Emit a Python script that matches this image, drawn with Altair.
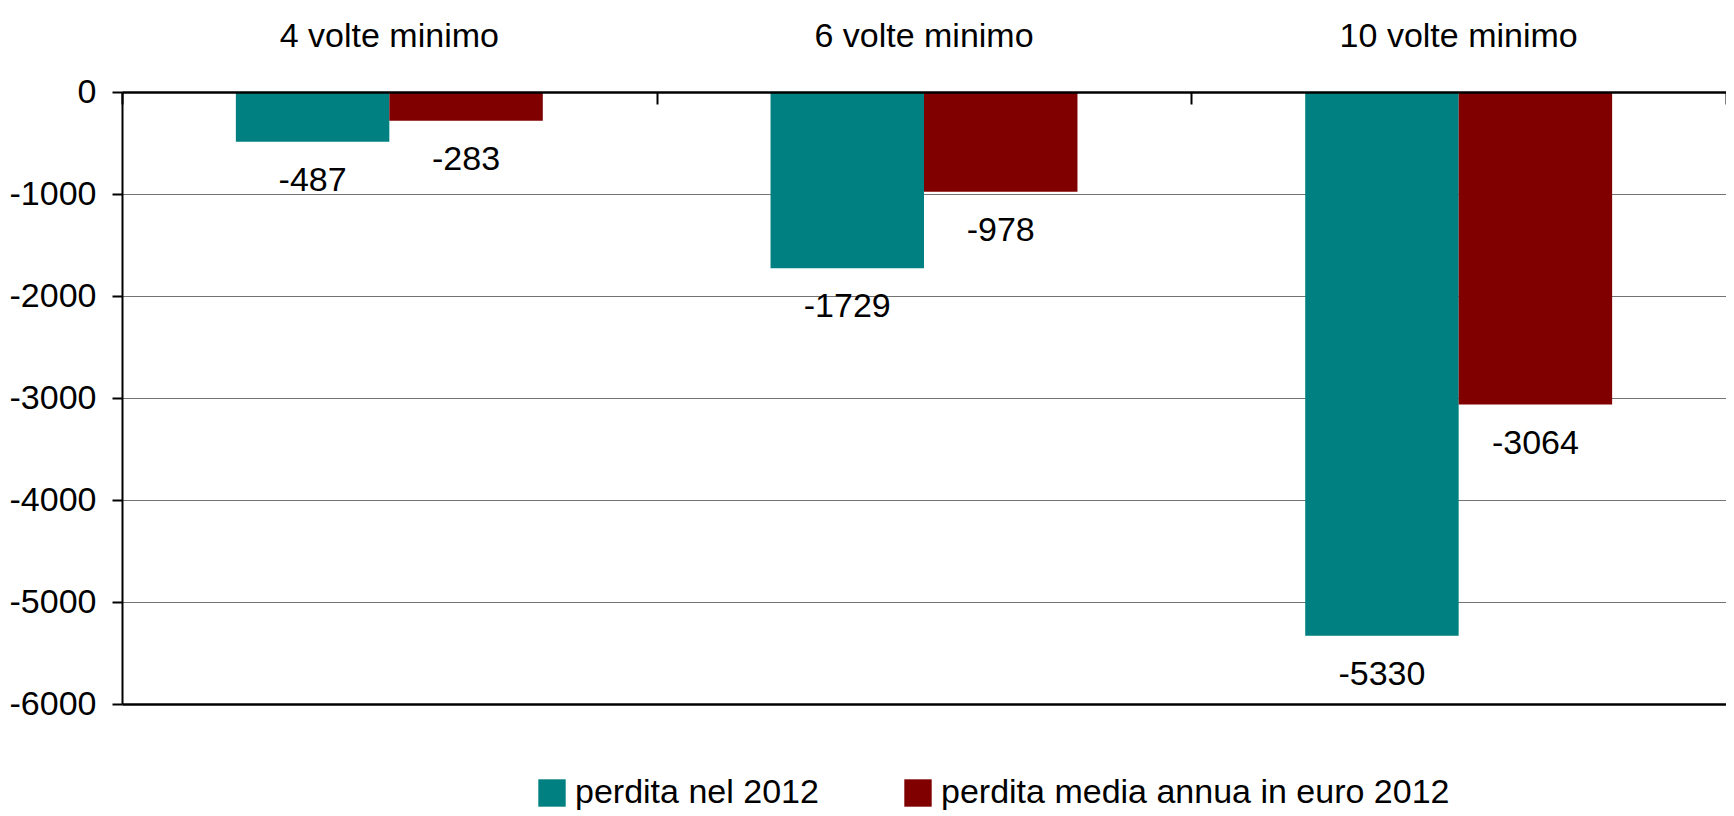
import altair as alt
import pandas as pd

categories = ["4 volte minimo", "6 volte minimo", "10 volte minimo"]
series = ["perdita nel 2012", "perdita media annua in euro 2012"]
perdita_2012 = [-487, -1729, -5330]
perdita_media = [-283, -978, -3064]
colors = ["#008080", "#800000"]
y_ticks = [0, -1000, -2000, -3000, -4000, -5000, -6000]

rows = []
for i, c in enumerate(categories):
    rows.append({"cat": c, "serie": series[0], "valore": perdita_2012[i], "etichetta": str(perdita_2012[i])})
    rows.append({"cat": c, "serie": series[1], "valore": perdita_media[i], "etichetta": str(perdita_media[i])})
df = pd.DataFrame(rows)

FONT = "Liberation Sans, Arial, sans-serif"
FS = 34
W, H = 1604, 612

x_scale = alt.Scale(domain=categories, paddingInner=0, paddingOuter=0)
xo_scale = alt.Scale(domain=series, paddingInner=0, paddingOuter=0.742)
y_scale = alt.Scale(domain=[-6000, 0], nice=False, zero=False)

y_enc = alt.Y(
    "valore:Q",
    scale=y_scale,
    axis=alt.Axis(
        title=None, values=y_ticks, labelExpr="toString(datum.value)",
        labelFontSize=FS, labelPadding=16, labelLimit=1000,
        tickSize=10, tickWidth=2, tickColor="black",
        domainColor="black", domainWidth=2,
        grid=True,
        gridColor={"condition": {"test": "datum.value === -6000", "value": "black"}, "value": "#737373"},
        gridWidth={"condition": {"test": "datum.value === -6000", "value": 2.5}, "value": 1.2},
    ),
)
xo_enc = alt.XOffset("serie:N", scale=xo_scale, sort=series)

bars = alt.Chart(df).mark_bar().encode(
    x=alt.X(
        "cat:N", scale=x_scale, sort=categories,
        axis=alt.Axis(
            orient="top", title=None, labelAngle=0, ticks=False, tickSize=0,
            domain=True, domainColor="black", domainWidth=2.5, zindex=1,
            labelPadding=46, labelBaseline="alphabetic", labelFontSize=FS, labelLimit=1000,
        ),
    ),
    xOffset=xo_enc,
    y=y_enc,
    color=alt.Color(
        "serie:N",
        scale=alt.Scale(domain=series, range=colors),
        sort=series,
        legend=alt.Legend(
            orient="none", legendX=413, legendY=684, direction="horizontal",
            title=None, symbolType="square", symbolSize=750, symbolStrokeWidth=0,
            labelFontSize=FS, labelOffset=6, columnPadding=82, labelLimit=1000,
        ),
    ),
)

labels = alt.Chart(df).mark_text(
    baseline="top", dy=22, font=FONT, fontSize=FS, color="black"
).encode(
    x=alt.X(
        "cat:N", scale=x_scale, sort=categories,
        axis=alt.Axis(
            orient="bottom", offset=-H, title=None, labels=False, domain=False,
            ticks=True, tickBand="extent", tickSize=12, tickWidth=2, tickColor="black",
            grid=False, zindex=1,
        ),
    ),
    xOffset=xo_enc,
    y=y_enc,
    text=alt.Text("etichetta:N"),
)

chart = (
    alt.layer(bars, labels)
    .resolve_axis(x="independent")
    .properties(
        width=W, height=H,
        autosize=alt.AutoSizeParams(type="none"),
        padding={"left": 114, "top": 84, "right": 0, "bottom": 106},
    )
    .configure_view(stroke=None)
    .configure_axis(labelFont=FONT, labelColor="black")
    .configure_legend(labelFont=FONT, labelColor="black")
)

chart.save("out.html", embed_options={"renderer": "svg", "actions": False})
